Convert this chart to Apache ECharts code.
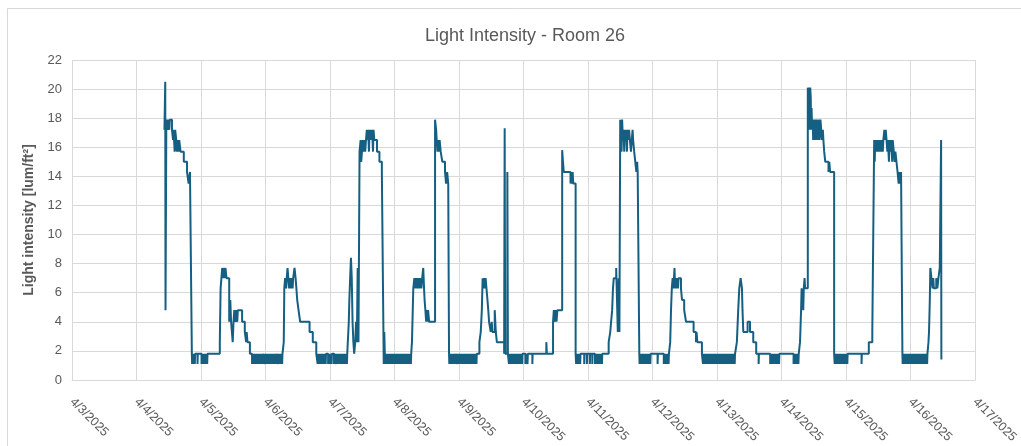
<!DOCTYPE html>
<html>
<head>
<meta charset="utf-8">
<script src="https://cdn.jsdelivr.net/npm/echarts@6/dist/echarts.min.js"></script>
<style>html,body{margin:0;padding:0;background:#fff}#c{width:1021px;height:446px}</style>
</head>
<body>
<div id="c"></div>
<script>
// x values: hours since 4/3/2025 00:00
const dayLabels = ['4/3/2025','4/4/2025','4/5/2025','4/6/2025','4/7/2025','4/8/2025','4/9/2025','4/10/2025','4/11/2025','4/12/2025','4/13/2025','4/14/2025','4/15/2025','4/16/2025','4/17/2025'];
const yTicks = [0,2,4,6,8,10,12,14,16,18,20,22];
const baseLevel = 1.8;
const dipLevel = 1.1;

// main shape of each day [hour, lum/ft²]
const apr04 = [[34.4,17.2],[34.7,20.5],[34.8,4.8],[35.1,17.9],[35.6,17.2],[35.8,17.9],[36.2,17.2],[36.4,17.9],[37.2,17.2],[37.6,16.5],[37.8,17.2],[38.2,15.7],[38.4,17.2],[38.8,16.5],[39.0,15.7],[39.3,16.5],[39.7,15.7],[39.9,16.5],[40.4,15.7],[41.6,15.0],[42.8,14.3],[43.4,13.5],[43.9,14.3],[44.6,1.8]];
const apr05 = [[55.0,2.6],[55.3,6.3],[55.6,7.0],[55.9,7.7],[56.3,7.0],[56.5,7.7],[56.9,7.0],[57.1,7.7],[57.5,7.0],[58.5,4.0],[58.9,5.5],[59.2,4.0],[59.5,3.3],[59.8,2.6],[60.1,4.0],[60.4,4.8],[60.8,4.0],[61.0,4.8],[61.5,4.0],[61.7,4.8],[63.3,4.0],[64.3,3.3],[64.8,2.6],[65.0,3.3],[65.3,2.6],[66.2,1.8]];
const apr06 = [[78.8,2.6],[79.0,6.3],[79.3,7.0],[79.7,6.3],[79.9,7.0],[80.2,7.7],[80.5,7.0],[80.8,6.3],[81.0,7.0],[81.4,6.3],[81.6,7.0],[82.1,6.3],[82.3,7.0],[82.8,7.7],[83.2,7.0],[83.5,6.3],[83.8,5.5],[84.3,4.8],[84.9,4.0],[88.4,3.3],[89.6,2.6],[90.9,1.8]];
const apr07 = [[103.0,4.0],[103.2,5.5],[103.5,7.0],[103.8,8.4],[104.1,7.0],[104.4,4.0],[104.7,2.6],[105.0,1.8],[105.4,2.6],[105.7,4.0],[106.0,2.6],[106.3,7.7],[106.6,2.6],[107.0,15.7],[107.4,16.5],[107.6,15.0],[107.9,15.7],[108.2,16.5],[108.5,15.7],[108.8,16.5],[109.1,15.7],[109.4,16.5],[109.7,17.2],[110.0,16.5],[110.2,17.2],[110.5,15.7],[110.7,17.2],[111.0,16.5],[111.2,17.2],[111.5,16.5],[111.7,17.2],[112.0,15.7],[112.2,17.2],[112.5,16.5],[113.5,15.7],[114.4,15.0],[115.3,14.3],[116.0,1.1],[116.2,3.3],[116.4,1.8]];
const apr08 = [[126.5,2.6],[127.0,6.3],[127.4,7.0],[127.8,6.3],[128.1,7.0],[128.5,6.3],[128.8,7.0],[129.2,6.3],[129.5,7.0],[130.0,6.3],[130.3,7.0],[130.7,7.7],[131.0,6.3],[131.2,5.5],[131.5,4.8],[131.8,4.0],[132.0,4.8],[132.3,4.0],[132.5,4.8],[132.9,4.0],[135.1,17.9],[135.5,17.2],[135.7,16.5],[136.0,15.7],[136.2,16.5],[136.6,15.7],[136.8,16.5],[137.2,15.7],[137.8,15.0],[138.8,14.3],[139.2,13.5],[139.6,14.3],[140.0,13.5],[140.3,1.8]];
const apr09 = [[151.6,2.6],[152.1,3.3],[152.5,4.8],[152.8,7.0],[153.2,6.3],[153.4,7.0],[153.7,6.3],[153.9,7.0],[154.6,5.5],[154.9,4.8],[155.2,4.0],[155.8,3.3],[156.2,4.0],[156.4,3.3],[157.3,4.8],[157.7,3.3],[158.1,2.6],[160.8,1.8],[161.0,17.3],[161.2,1.8],[162.0,14.3],[162.2,1.8]];
const apr10 = [[176.5,2.6],[176.7,1.8],[179.0,4.0],[179.3,4.8],[179.7,4.0],[180.0,4.8],[180.3,4.0],[180.6,4.8],[182.4,15.8],[182.7,15.0],[183.0,14.3],[185.5,13.5],[185.8,14.3],[186.0,13.5],[186.3,14.3],[186.5,13.5],[187.4,1.8]];
const apr11 = [[199.7,2.6],[200.3,3.3],[200.6,4.0],[201.0,4.8],[201.3,6.3],[201.6,7.0],[202.5,7.7],[203.1,3.3],[203.4,7.0],[203.7,3.3],[204.0,17.9],[204.3,17.2],[204.5,15.7],[204.7,17.9],[205.0,16.5],[205.2,17.2],[205.5,15.7],[205.7,17.2],[206.0,16.5],[206.2,17.2],[206.5,15.7],[206.7,17.2],[207.0,16.5],[207.3,17.2],[207.6,16.5],[208.0,15.7],[208.3,16.5],[208.6,17.2],[208.8,16.5],[209.2,15.7],[209.6,15.0],[210.0,14.3],[210.3,15.0],[210.5,14.3],[211.1,1.8]];
const apr12 = [[222.6,2.6],[222.9,4.8],[223.2,6.3],[223.5,7.0],[223.8,6.3],[224.0,7.0],[224.2,7.7],[224.4,6.3],[224.7,7.0],[225.0,6.3],[225.2,7.0],[225.5,6.3],[225.7,7.0],[226.6,6.3],[227.0,5.5],[227.8,4.8],[228.5,4.0],[231.3,3.3],[232.2,2.6],[232.4,3.3],[232.7,2.6],[234.4,1.8]];
const apr13 = [[247.4,2.6],[247.9,4.8],[248.3,6.3],[248.8,7.0],[249.3,6.3],[249.5,4.8],[249.8,3.3],[251.4,4.0],[252.3,3.3],[253.5,2.6],[254.6,1.8]];
const apr14 = [[270.9,2.6],[271.3,4.8],[271.5,6.3],[271.8,5.5],[272.1,4.8],[272.3,6.3],[272.6,7.0],[272.8,6.3],[273.8,20.1],[274.0,18.7],[274.1,20.1],[274.3,17.2],[274.4,20.1],[274.6,18.0],[274.7,20.1],[274.9,19.4],[275.0,17.2],[275.2,18.7],[275.4,17.2],[275.6,17.9],[275.8,16.5],[276.0,17.9],[276.2,17.2],[276.4,16.5],[276.7,17.9],[276.9,16.5],[277.2,17.9],[277.4,17.2],[277.7,16.5],[278.0,17.9],[278.2,16.5],[278.5,17.9],[278.8,17.2],[279.1,16.5],[279.4,17.2],[279.6,16.5],[279.9,15.7],[280.3,15.0],[281.5,14.3],[281.8,15.0],[282.1,14.3],[283.6,1.8]];
const apr15 = [[296.5,2.6],[297.8,3.3],[298.5,16.5],[298.7,15.0],[298.9,16.5],[299.1,15.7],[299.4,16.5],[299.7,15.7],[300.0,16.5],[300.4,15.7],[300.6,16.5],[301.0,15.7],[301.2,16.5],[301.7,15.7],[301.9,16.5],[302.3,17.2],[302.6,16.5],[302.8,17.2],[303.1,16.5],[303.4,15.7],[303.6,16.5],[304.0,15.0],[304.2,16.5],[304.6,15.7],[304.8,16.5],[305.2,15.0],[305.4,16.5],[305.8,15.7],[306.1,15.0],[306.4,15.7],[306.8,15.0],[307.2,14.3],[307.6,13.5],[307.9,14.3],[308.2,13.5],[308.5,14.3],[309.0,1.8]];
const apr16 = [[318.7,2.6],[318.9,3.3],[319.0,4.0],[319.2,5.5],[319.4,7.7],[319.8,7.0],[320.2,6.3],[320.5,7.0],[320.7,6.3],[321.6,7.0],[322.0,6.3],[322.4,7.0],[322.9,7.7],[323.4,16.5],[323.5,1.4]];

// night-time flicker: hours at which the reading dips from 1.8 to 1.1
const dips04 = [44.7,45.0,45.7,46.7,48.2,48.5,48.8,49.4,49.7,50.0,50.3];
const dips05 = [67.0,67.4,67.7,68.0,68.4,68.7,69.1,69.5,69.8,70.3,70.6,71.0,71.8,72.1,72.5,72.9,73.2,73.6,74.0,74.3,74.7,75.1,75.5,76.0,76.8,77.2,77.5,77.9,78.2];
const dips06 = [91.4,91.8,92.1,92.5,92.9,93.2,93.6,94.0,94.4,95.3,96.0,96.6,97.5,98.3,98.6,99.0,99.3,99.7,100.1,100.4,100.8,101.2,101.5,101.9,102.3];
const dips07 = [116.6,117.0,117.3,117.7,118.1,118.4,118.8,119.2,119.5,119.9,120.3,120.6,121.0,121.4,121.7,122.1,122.5,122.8,123.2,123.6,123.9,124.3,124.7,125.0,125.4,125.8,126.1];
const dips08 = [140.4,140.8,141.1,141.5,141.9,142.2,142.6,143.4,144.1,144.7,145.0,145.4,145.8,146.1,146.5,146.9,147.2,147.6,148.0,148.3,148.7,149.1,149.4,149.8,150.2,150.5];
const dips09 = [162.6,163.2,163.5,163.9,164.3,164.6,165.0,165.4,165.7,166.1,166.5,166.8,167.2,167.5,168.7,169.5,171.3];
const dips10 = [187.6,188.0,188.3,188.7,189.1,190.6,191.6,192.7,193.6,194.6,195.0,195.3,195.7,196.1,196.4,196.8,197.2];
const dips11 = [211.2,211.6,211.9,212.3,212.7,213.0,213.4,213.8,214.1,214.5,214.9,215.2,217.9,220.2,220.6,220.9,221.3,221.7,222.0];
const dips12 = [234.8,235.2,235.5,235.9,236.3,236.6,237.0,237.4,237.7,238.1,238.5,238.8,239.2,239.6,239.9,240.3,240.7,241.0,241.4,241.8,242.1,242.5,242.9,243.2,243.6,244.0,244.3,244.7,245.1,245.4,245.8,246.2,246.6];
const dips13 = [255.5,259.8,260.2,260.5,260.9,261.3,261.6,262.0,262.4,262.7,263.1,268.5,268.9,269.2,269.6,270.0,270.3];
const dips14 = [283.8,284.1,284.5,284.9,285.2,285.6,286.0,286.3,286.7,287.1,287.4,287.8,288.2,288.5,293.8];
const dips15 = [309.1,309.4,309.7,310.1,310.5,310.8,311.2,311.6,311.9,312.3,312.7,313.0,313.4,313.8,314.1,314.5,314.9,315.2,315.6,316.0,316.3,316.7,317.1,317.4,317.8,318.2];

const shapes = [apr04,apr05,apr06,apr07,apr08,apr09,apr10,apr11,apr12,apr13,apr14,apr15,apr16];
const dips = [dips04,dips05,dips06,dips07,dips08,dips09,dips10,dips11,dips12,dips13,dips14,dips15];

let pts = [];
shapes.forEach(a => a.forEach(p => pts.push([p[0], p[1]])));
dips.forEach(a => a.forEach(t => { pts.push([t, dipLevel]); pts.push([+(t + 0.12).toFixed(2), baseLevel]); }));
pts.sort((a, b) => a[0] - b[0]);

const chart = echarts.init(document.getElementById('c'));
const txt = '#595959';
chart.setOption({
  animation: false,
  backgroundColor: '#ffffff',
  title: {
    text: 'Light Intensity - Room 26',
    left: 520, top: 22, textAlign: 'center',
    textStyle: { fontFamily: "'Liberation Sans',sans-serif", fontSize: 18, fontWeight: 'normal', color: txt }
  },
  graphic: [{
    type: 'rect', silent: true, z: -1,
    shape: { x: 7.5, y: 8.5, width: 1100, height: 600 },
    style: { fill: 'none', stroke: '#d9d9d9', lineWidth: 1 }
  }],
  grid: { left: 72, top: 60, width: 905, height: 320.5, containLabel: false },
  xAxis: {
    type: 'value', min: 0, max: 336, interval: 24,
    axisLine: { show: true, lineStyle: { color: '#d9d9d9', width: 1 } },
    axisTick: { show: false },
    splitLine: { show: true, lineStyle: { color: '#d9d9d9', width: 1 } },
    axisLabel: {
      rotate: -45, margin: 20, color: txt, fontSize: 12.5,
      fontFamily: "'Liberation Sans',sans-serif",
      formatter: v => dayLabels[Math.round(v / 24)]
    }
  },
  yAxis: {
    type: 'value', min: yTicks[0], max: yTicks[yTicks.length - 1], interval: 2,
    name: 'Light intensity [lum/ft²]', nameLocation: 'middle', nameGap: 32, nameRotate: 90,
    nameTextStyle: { color: txt, fontSize: 14, fontWeight: 'bold', fontFamily: "'Liberation Sans',sans-serif" },
    axisLine: { show: false }, axisTick: { show: false },
    splitLine: { show: true, lineStyle: { color: '#d9d9d9', width: 1 } },
    axisLabel: { color: txt, fontSize: 13, margin: 10, fontFamily: "'Liberation Sans',sans-serif" }
  },
  series: [{
    type: 'line', step: 'end', showSymbol: false, data: pts,
    lineStyle: { color: '#156082', width: 2 }, itemStyle: { color: '#156082' }
  }]
});
</script>
</body>
</html>
